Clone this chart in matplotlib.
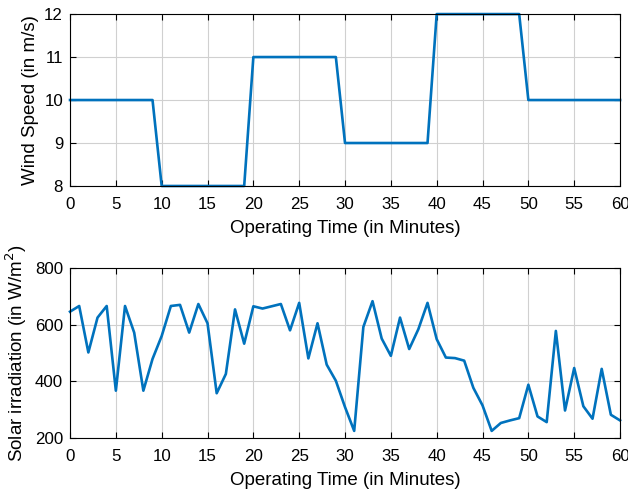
import matplotlib
matplotlib.use('Agg')
import matplotlib.pyplot as plt
import numpy as np

# time axis (minutes)
minutes = np.arange(0, 61)

# wind speed steps (m/s) at each minute
wind_speed = [10] * 10 + [8] * 10 + [11] * 10 + [9] * 10 + [12] * 10 + [10] * 11

# solar irradiation (W/m^2) at each minute
solar = [646, 666, 502, 625, 666, 367, 666, 572, 367, 479,
         560, 666, 670, 572, 673, 605, 358, 426, 654, 533,
         665, 657, 665, 673, 580, 677, 481, 605, 459, 402,
         309, 225, 592, 683, 551, 490, 625, 514, 584, 677,
         549, 484, 482, 473, 377, 315, 225, 253, 262, 270,
         388, 276, 256, 578, 297, 447, 312, 268, 444, 282,
         262]

x_ticks = list(range(0, 61, 5))
LINE = '#0072BD'

plt.rcParams['font.family'] = ['Liberation Sans', 'DejaVu Sans']

fig = plt.figure(figsize=(6.28, 4.94), dpi=100)
ax1 = fig.add_axes([0.1115, 0.6235, 0.8758, 0.348])
ax2 = fig.add_axes([0.1115, 0.1134, 0.8758, 0.344])


def style(ax):
    ax.grid(True, color='#d0d0d0', linewidth=0.8)
    ax.set_axisbelow(True)
    ax.tick_params(direction='in', top=True, right=True, labelsize=12.2,
                   length=4.5, width=0.8, colors='black', pad=5)
    ax.tick_params(axis='x', pad=8)
    for s in ax.spines.values():
        s.set_linewidth(0.8)
    ax.set_xticks(x_ticks)
    ax.set_xlim(0, 60)


ax1.plot(minutes, wind_speed, color=LINE, linewidth=1.9, clip_on=False)
style(ax1)
ax1.set_ylim(8, 12)
ax1.set_yticks([8, 9, 10, 11, 12])
ax1.set_xlabel('Operating Time (in Minutes)', fontsize=13.5, labelpad=6)
ax1.set_ylabel('Wind Speed (in m/s)', fontsize=13.5, labelpad=4)

ax2.plot(minutes, solar, color=LINE, linewidth=1.9, clip_on=False)
style(ax2)
ax2.set_ylim(200, 800)
ax2.set_yticks([200, 400, 600, 800])
ax2.set_xlabel('Operating Time (in Minutes)', fontsize=13.5, labelpad=6)
ax2.set_ylabel('Solar irradiation (in W/m$^2$)', fontsize=13.5, labelpad=4)

fig.savefig('out.png', dpi=100)
